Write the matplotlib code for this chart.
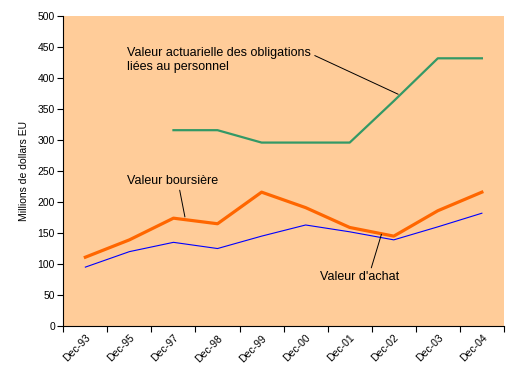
import numpy as np
import matplotlib.pyplot as plt

plt.rcParams['font.family'] = ['Liberation Sans', 'DejaVu Sans']

mois = ['Dec-93', 'Dec-95', 'Dec-97', 'Dec-98', 'Dec-99',
        'Dec-00', 'Dec-01', 'Dec-02', 'Dec-03', 'Dec-04']
achat = [95, 120, 135, 125, 145, 163, 152, 139, 160, 182]
boursiere = [111, 139, 174, 165, 216, 191, 159, 145, 186, 216]
actuarielle = [np.nan, np.nan, 316, 316, 296, 296, 296, 363, 432, 432]

x = np.arange(len(mois))

fig = plt.figure(figsize=(5.09, 3.76), dpi=100)
ax = fig.add_axes([0.1244, 0.133, 0.8656, 0.824])
ax.set_facecolor('#FFCC99')

ax.plot(x, achat, color='#0000FF', lw=0.8)
ax.plot(x, boursiere, color='#FF6600', lw=2.3)
ax.plot(x, actuarielle, color='#339966', lw=1.6)

ax.set_xlim(-0.5, len(mois) - 0.5)
ax.set_ylim(0, 500)
ax.set_yticks(np.arange(0, 501, 50))
ax.set_xticks(np.arange(-0.5, len(mois)), minor=False)
ax.set_xticklabels([])
ax.set_xticks(x, minor=True)
ax.set_xticklabels(mois, minor=True, rotation=45, ha='right', rotation_mode='anchor')
ax.tick_params(axis='x', which='minor', length=0, pad=5, labelsize=7.5)
ax.tick_params(axis='x', which='major', length=4, direction='out')
ax.tick_params(axis='y', length=4, labelsize=7.5, pad=2)
for s in ['top', 'right']:
    ax.spines[s].set_visible(False)
ax.set_ylabel('Millions de dollars EU', fontsize=7.5, labelpad=6)

ax.annotate('Valeur actuarielle des obligations\nliées au personnel',
            xy=(7.1, 374), xytext=(0.95, 450), fontsize=9,
            va='top', ha='left', linespacing=1.25,
            arrowprops=dict(arrowstyle='-', color='black', lw=0.7,
                            shrinkA=0, shrinkB=0, relpos=(1.02, 0.68)))
ax.annotate('Valeur boursière', xy=(2.26, 176), xytext=(0.95, 243),
            fontsize=9, va='top', ha='left',
            arrowprops=dict(arrowstyle='-', color='black', lw=0.7,
                            shrinkA=0, shrinkB=0, relpos=(0.57, 0.0)))
ax.annotate("Valeur d'achat", xy=(6.72, 148), xytext=(5.32, 70),
            fontsize=9, va='bottom', ha='left',
            arrowprops=dict(arrowstyle='-', color='black', lw=0.7,
                            shrinkA=0, shrinkB=0, relpos=(0.64, 1.0)))

fig.savefig('out.png', dpi=100)
